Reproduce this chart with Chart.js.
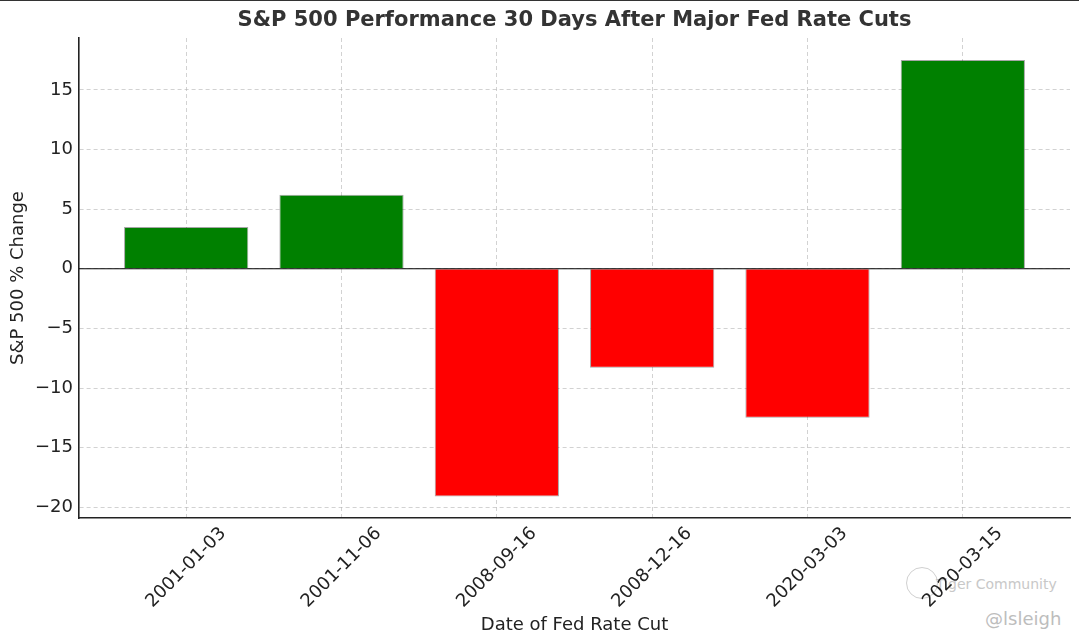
<!DOCTYPE html>
<html>
<head>
<meta charset="utf-8">
<script src="https://cdn.jsdelivr.net/npm/chart.js@4"></script>
<style>
  html, body { margin: 0; padding: 0; background: #fff; }
  #wrap { position: relative; width: 1079px; height: 644px; border-top: 1px solid #333; box-sizing: border-box; }
  canvas { display: block; position: relative; z-index: 1; }
  .wm { position: absolute; z-index: 0; font-family: "DejaVu Sans", sans-serif; color: #c8c8c8; white-space: nowrap; }
</style>
</head>
<body>
<div id="wrap">
  <div class="wm" style="left:906px; top:566px; width:30px; height:30px; border:1.5px solid #d0d0d0; border-radius:50%;"></div>
  <div class="wm" style="left:936px; top:575px; font-size:14px;">Tiger Community</div>
  <div class="wm" style="left:985px; top:607px; font-size:18px; color:#bdbdbd;">@lsleigh</div>
  <canvas id="c" width="1079" height="643"></canvas>
</div>
<script>
// ---- data ----
const dates = ["2001-01-03", "2001-11-06", "2008-09-16", "2008-12-16", "2020-03-03", "2020-03-15"];
const changes = [3.5, 6.2, -19.1, -8.3, -12.5, 17.5];
const yTicks = [-20, -15, -10, -5, 0, 5, 10, 15];
const titleText = "S&P 500 Performance 30 Days After Major Fed Rate Cuts";

const barColors = changes.map(v => v >= 0 ? "#008000" : "#ff0000");
const FONT = "'DejaVu Sans', sans-serif";
const TXT = "#222";

const extras = {
  id: "extras",
  afterDraw(chart) {
    const { ctx, chartArea, scales } = chart;
    const y = scales.y.getPixelForValue(0);
    ctx.save();
    ctx.strokeStyle = "#000";
    ctx.lineWidth = 1.2;
    ctx.beginPath();
    ctx.moveTo(chartArea.left, y);
    ctx.lineTo(chartArea.right, y);
    ctx.stroke();
    ctx.fillStyle = "#333";
    ctx.font = "bold 21px " + FONT;
    ctx.textAlign = "center";
    ctx.textBaseline = "middle";
    ctx.fillText(titleText, (chartArea.left + chartArea.right) / 2, 20);
    ctx.restore();
  }
};

new Chart(document.getElementById("c"), {
  type: "bar",
  data: {
    datasets: [{
      data: changes.map((v, i) => ({ x: i, y: v })),
      backgroundColor: barColors,
      borderColor: "rgba(0,0,0,0.35)",
      borderWidth: 1,
      categoryPercentage: 0.8,
      barPercentage: 1.0
    }]
  },
  options: {
    responsive: false,
    animation: false,
    devicePixelRatio: 1,
    layout: { padding: { left: 0, right: 9, top: 37, bottom: 0 } },
    plugins: {
      legend: { display: false },
      tooltip: { enabled: false },
      title: { display: false }
    },
    scales: {
      x: {
        type: "linear",
        min: -0.69,
        max: 5.69,
        offset: false,
        z: 1,
        afterBuildTicks: axis => { axis.ticks = dates.map((_, i) => ({ value: i })); },
        afterFit: axis => { axis.height = 126; },
        ticks: {
          autoSkip: false,
          maxRotation: 45,
          minRotation: 45,
          labelOffset: 37,
          padding: 5,
          color: TXT,
          font: { family: FONT, size: 18 },
          callback: v => dates[v] !== undefined ? dates[v] : ""
        },
        grid: { offset: false, color: "rgba(180,180,180,0.75)", lineWidth: 0.8, drawTicks: false },
        border: { display: true, color: "#222", width: 1.6, dash: [4, 3] },
        title: {
          display: true,
          text: "Date of Fed Rate Cut",
          color: TXT,
          font: { family: FONT, size: 18 },
          padding: { top: 0, bottom: 8 }
        }
      },
      y: {
        type: "linear",
        min: -20.9,
        max: 19.35,
        z: 1,
        afterBuildTicks: axis => { axis.ticks = yTicks.map(v => ({ value: v })); },
        afterFit: axis => { axis.width = 79; },
        ticks: {
          padding: 6,
          color: TXT,
          font: { family: FONT, size: 18 },
          callback: v => v < 0 ? "\u2212" + Math.abs(v) : String(v)
        },
        grid: { color: "rgba(180,180,180,0.75)", lineWidth: 0.8, drawTicks: false },
        border: { display: true, color: "#222", width: 1.6, dash: [4, 3] },
        title: {
          display: true,
          text: "S&P 500 % Change",
          color: TXT,
          font: { family: FONT, size: 18 },
          padding: { top: 8, bottom: 0 }
        }
      }
    }
  },
  plugins: [extras]
});
</script>
</body>
</html>
